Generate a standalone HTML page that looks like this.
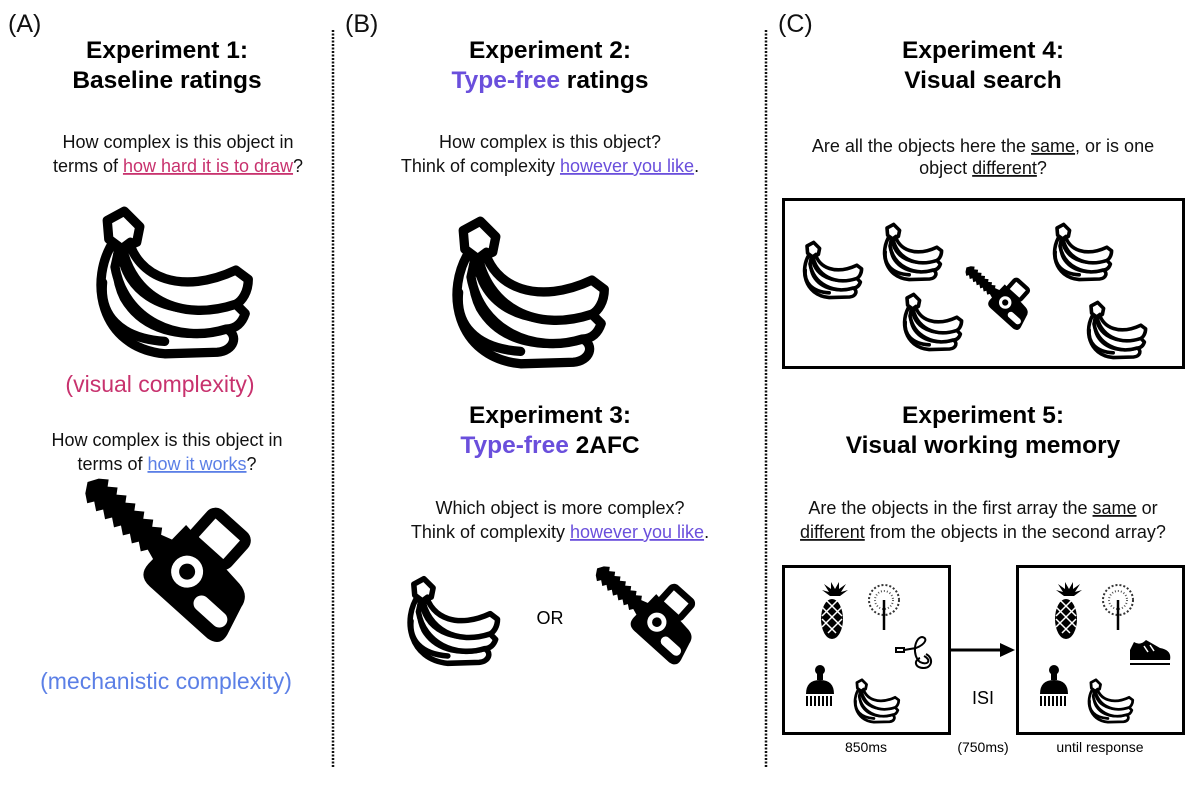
<!DOCTYPE html>
<html><head><meta charset="utf-8"><style>
html,body{margin:0;padding:0;background:#fff;}
svg{display:block;font-family:"Liberation Sans",sans-serif;}
.h{font-weight:bold;font-size:24.5px;text-anchor:middle;fill:#000}
.q{font-size:18px;text-anchor:middle;fill:#111}
.p{font-size:25px;fill:#111}
</style></head><body>
<svg width="1200" height="800" viewBox="0 0 1200 800">
<defs>
 <g id="ban">
  <g fill="#fff" stroke="#000" stroke-width="6" stroke-linejoin="round" stroke-linecap="round">
   <path d="M20,22 C2,48 10,92 52,96 L86,95 C97,94 100,84 92,80 C70,86 40,84 26,60 C20,48 20,34 24,24 Z"/>
   <path d="M24,22 C22,52 48,76 98,64 L104,70 C102,76 98,80 92,80 C60,90 26,74 20,40 Z"/>
   <path d="M28,20 C34,48 64,58 98,42 L106,48 C106,56 102,62 98,64 C62,76 30,60 24,24 Z"/>
   <path d="M15,10 L26,4 L36,14 L34,24 L24,28 L16,22 Z"/>
   <path d="M22,30 L30,24" />
   <path d="M12,50 C10,70 22,86 52,88" fill="none"/>
  </g>
 </g>
 <g id="saw">
  <g transform="translate(8,8) rotate(42)">
   <polygon fill="#000" points="0,-10 8,-16 12,-10 20,-16 24,-10 32,-16 36,-10 44,-16 48,-10 56,-16 60,-10 68,-16 72,-10 80,-16 84,-10 96,-14 96,14 84,10 80,16 72,10 68,16 60,10 56,16 48,10 44,16 36,10 32,16 24,10 20,16 12,10 8,16 0,10 -6,0"/>
   <path d="M96,-34 L175,-26 Q190,-24 192,-10 L200,20 Q203,34 188,36 L110,36 Q94,36 94,20 Z" fill="#000"/>
   <rect x="108" y="-64" width="44" height="36" rx="6" fill="none" stroke="#000" stroke-width="11"/>
   <circle cx="128" cy="0" r="16" fill="#fff"/>
   <circle cx="128" cy="0" r="8" fill="#000"/>
   <rect x="152" y="6" width="40" height="16" rx="8" fill="#fff"/>
  </g>
 </g>
</defs>

<line x1="333" y1="30" x2="333" y2="768" stroke="#111" stroke-width="2.5" stroke-dasharray="2 1.5"/>
<line x1="766" y1="30" x2="766" y2="768" stroke="#111" stroke-width="2.5" stroke-dasharray="2 1.5"/>

<!-- A -->
<text class="p" x="8" y="32">(A)</text>
<text class="h" x="167" y="58">Experiment 1:</text>
<text class="h" x="167" y="88">Baseline ratings</text>
<text class="q" x="178" y="148">How complex is this object in</text>
<text class="q" x="178" y="172">terms of <tspan fill="#c8326e" text-decoration="underline">how hard it is to draw</tspan>?</text>
<use href="#ban" transform="translate(84,205) scale(1.55)"/>
<text x="160" y="392" font-size="23px" text-anchor="middle" fill="#c8326e">(visual complexity)</text>
<text class="q" x="167" y="446">How complex is this object in</text>
<text class="q" x="167" y="470">terms of <tspan fill="#5b7fe6" text-decoration="underline">how it works</tspan>?</text>
<use href="#saw" transform="translate(84,478) scale(1.0)"/>
<text x="166" y="689" font-size="23px" text-anchor="middle" fill="#5b7fe6">(mechanistic complexity)</text>

<!-- B -->
<text class="p" x="345" y="32">(B)</text>
<text class="h" x="550" y="58">Experiment 2:</text>
<text class="h" x="550" y="88"><tspan fill="#6a4fdc">Type-free</tspan> ratings</text>
<text class="q" x="550" y="148">How complex is this object?</text>
<text class="q" x="550" y="172">Think of complexity <tspan fill="#6a4fdc" text-decoration="underline">however you like</tspan>.</text>
<use href="#ban" transform="translate(440,215) scale(1.55)"/>
<text class="h" x="550" y="423">Experiment 3:</text>
<text class="h" x="550" y="453"><tspan fill="#6a4fdc">Type-free</tspan> 2AFC</text>
<text class="q" x="560" y="514">Which object is more complex?</text>
<text class="q" x="560" y="538">Think of complexity <tspan fill="#6a4fdc" text-decoration="underline">however you like</tspan>.</text>
<use href="#ban" transform="translate(400,575) scale(0.92)"/>
<text x="550" y="624" font-size="18" text-anchor="middle">OR</text>
<use href="#saw" transform="translate(595,566) scale(0.6)"/>

<!-- C -->
<text class="p" x="778" y="32">(C)</text>
<text class="h" x="983" y="58">Experiment 4:</text>
<text class="h" x="983" y="88">Visual search</text>
<text class="q" x="983" y="152">Are all the objects here the <tspan text-decoration="underline">same</tspan>, or is one</text>
<text class="q" x="983" y="174">object <tspan text-decoration="underline">different</tspan>?</text>
<rect x="783.5" y="199.5" width="400" height="168" fill="none" stroke="#000" stroke-width="3"/>
<use href="#ban" transform="translate(798,240) scale(0.6)"/>
<use href="#ban" transform="translate(878,222) scale(0.6)"/>
<use href="#ban" transform="translate(898,292) scale(0.6)"/>
<use href="#ban" transform="translate(1048,222) scale(0.6)"/>
<use href="#ban" transform="translate(1082,300) scale(0.6)"/>
<use href="#saw" transform="translate(965,266) scale(0.39)"/>

<text class="h" x="983" y="423">Experiment 5:</text>
<text class="h" x="983" y="453">Visual working memory</text>
<text class="q" x="983" y="514">Are the objects in the first array the <tspan text-decoration="underline">same</tspan> or</text>
<text class="q" x="983" y="538"><tspan text-decoration="underline">different</tspan> from the objects in the second array?</text>

<rect x="783.5" y="566.5" width="166" height="167" fill="none" stroke="#000" stroke-width="3"/>
<rect x="1017.5" y="566.5" width="166" height="167" fill="none" stroke="#000" stroke-width="3"/>
<line x1="950" y1="650" x2="1002" y2="650" stroke="#000" stroke-width="3"/>
<polygon points="1000,643 1015,650 1000,657" fill="#000"/>

<g id="arr1">
 <path d="M830,596 l-8,-6 l7,2 l-5,-8 l7,5 l0,-7 l4,7 l4,-7 l0,7 l7,-5 l-5,8 l7,-2 l-8,6 Z" fill="#000"/>
 <ellipse cx="832" cy="619" rx="11" ry="20" fill="#000"/>
 <path d="M822,607 l20,20 M822,619 l14,14 M826,600 l16,16 M842,607 l-20,20 M842,619 l-14,14 M838,600 l-16,16" stroke="#fff" stroke-width="1.5"/>
 <circle cx="884" cy="600" r="15" fill="none" stroke="#333" stroke-width="2" stroke-dasharray="2 2"/>
 <circle cx="884" cy="600" r="9" fill="none" stroke="#555" stroke-width="2" stroke-dasharray="1 2"/>
 <line x1="884" y1="600" x2="884" y2="630" stroke="#000" stroke-width="2.5"/>
</g>
<g fill="none" stroke="#000" stroke-width="2">
 <rect x="896" y="648" width="8" height="4"/>
 <path d="M904,650 L916,648 C926,644 928,638 922,637 C914,638 912,656 920,662 C928,666 932,660 924,656"/>
 <path d="M920,658 C914,660 914,668 924,668 C932,668 934,658 926,654"/>
</g>
<g id="brush">
 <circle cx="820" cy="670" r="5" fill="#000"/>
 <rect x="817" y="670" width="6" height="10" fill="#000"/>
 <path d="M806,694 Q806,680 820,680 Q834,680 834,694 Z" fill="#000"/>
 <path d="M807,696 v10 M811,696 v10 M815,696 v10 M819,696 v10 M823,696 v10 M827,696 v10 M831,696 v10" stroke="#000" stroke-width="2"/>
</g>
<use href="#ban" transform="translate(850,678) scale(0.46)"/>

<use href="#arr1" transform="translate(234,0)"/>
<use href="#brush" transform="translate(234,0)"/>
<use href="#ban" transform="translate(1084,678) scale(0.46)"/>
<path d="M1130,650 L1130,660 L1170,660 Q1172,650 1160,648 L1146,640 Q1140,646 1134,642 Z" fill="#000"/>
<line x1="1130" y1="664" x2="1170" y2="664" stroke="#000" stroke-width="2"/>
<path d="M1144,646 l4,6 M1150,645 l4,6" stroke="#fff" stroke-width="1.5"/>

<text x="983" y="704" font-size="18" text-anchor="middle">ISI</text>
<text x="983" y="752" font-size="14" text-anchor="middle">(750ms)</text>
<text x="866" y="752" font-size="14" text-anchor="middle">850ms</text>
<text x="1100" y="752" font-size="14" text-anchor="middle">until response</text>
</svg>
</body></html>
